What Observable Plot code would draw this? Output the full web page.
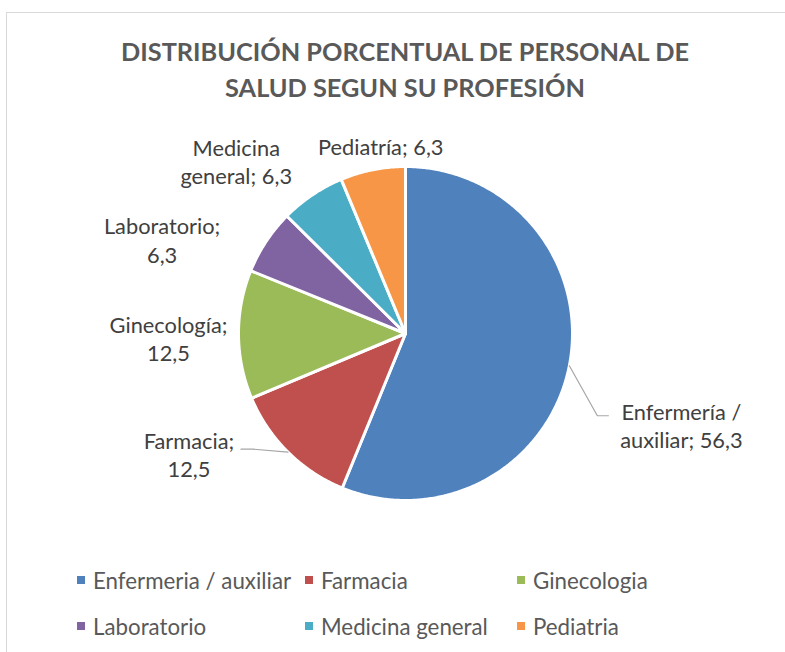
<!DOCTYPE html>
<html>
<head>
<meta charset="utf-8">
<script src="https://cdn.jsdelivr.net/npm/d3@7"></script>
<script src="https://cdn.jsdelivr.net/npm/@observablehq/plot@0.6"></script>
<style>
  html, body { margin: 0; padding: 0; background: #fff; }
  #wrap { position: relative; width: 785px; height: 652px; overflow: hidden; background: #fff; font-family: Lato, "Noto Sans", sans-serif; }
  #frame { position: absolute; left: 6px; top: 12px; width: 820px; height: 700px; border: 1px solid #d9d9d9; box-sizing: border-box; }
  #chart { position: absolute; left: 0; top: 0; }
  #title { position: absolute; left: 0; width: 810px; top: 33px; text-align: center; font-weight: bold; font-size: 25.3px; line-height: 36px; color: #595959; }
  #legend { position: absolute; left: 77px; top: 565px; display: grid; grid-template-columns: 228px 212px auto; row-gap: 16px; font-size: 22.3px; color: #595959; }
  .item { display: flex; align-items: center; height: 30px; white-space: nowrap; }
  .sw { width: 8px; height: 8px; margin-right: 8px; flex: none; }
</style>
</head>
<body>
<div id="wrap">
  <div id="frame"></div>
  <div id="chart"></div>
  <div id="title">DISTRIBUCIÓN PORCENTUAL DE PERSONAL DE<br>SALUD SEGUN SU PROFESIÓN</div>
  <div id="legend"></div>
</div>
<script>
// ---- data ----
const categories = ["Enfermería / auxiliar", "Farmacia", "Ginecología", "Laboratorio", "Medicina general", "Pediatría"];
const values = [56.3, 12.5, 12.5, 6.3, 6.3, 6.3];
const legendLabels = ["Enfermeria / auxiliar", "Farmacia", "Ginecologia", "Laboratorio", "Medicina general", "Pediatria"];
const colors = ["#4F81BD", "#C0504D", "#9BBB59", "#8064A2", "#4BACC6", "#F79646"];
const labelBreaks = ["Enfermería /", "Farmacia;", "Ginecología;", "Laboratorio;", "Medicina", null];
// label placement offsets (pixels) from each slice's outer mid-point
const labelOffsets = [[112, 59], [-99, 2], [-70, 3], [-104, -2], [-76, -34], [8, -24]];
// leader lines (pixel offsets from slice outer mid-point)
const leaders = [
  {slice: 0, pts: [[0, 0], [28, 50], [39, 50]]},
  {slice: 1, pts: [[0, 0], [-35, -3], [-47, -3]]}
];

// ---- layout ----
const W = 785, H = 652, CX = 405, CY = 333, R = 167;
const fmt = v => v.toFixed(1).replace(".", ",");

const pie = d3.pie().sort(null).value(d => d)(values);
const rows = [];
pie.forEach((p, i) => {
  const a0 = p.startAngle, a1 = p.endAngle;
  rows.push({name: categories[i], x: 0, y: 0, k: 0});
  const n = Math.max(2, Math.ceil((a1 - a0) / (Math.PI / 360)));
  for (let j = 0; j <= n; j++) {
    const a = a0 + (a1 - a0) * j / n;
    rows.push({name: categories[i], x: Math.sin(a), y: Math.cos(a), k: j + 1});
  }
});

const mid = pie.map(p => (p.startAngle + p.endAngle) / 2);
const labels = categories.map((c, i) => {
  let t = c + "; " + fmt(values[i]);
  const b = labelBreaks[i];
  if (b) t = b + "\n" + t.slice(b.length).trim();
  return {
    text: t,
    x: Math.sin(mid[i]) + labelOffsets[i][0] / R,
    y: Math.cos(mid[i]) - labelOffsets[i][1] / R
  };
});
const leaderRows = [];
leaders.forEach((l, li) => l.pts.forEach(([dx, dy]) => leaderRows.push({
  id: li, x: Math.sin(mid[l.slice]) + dx / R, y: Math.cos(mid[l.slice]) - dy / R
})));

const chart = Plot.plot({
  width: W, height: H,
  margin: 0,
  style: {background: "transparent", fontFamily: "Lato, 'Noto Sans', sans-serif"},
  x: {domain: [-CX / R, (W - CX) / R], axis: null},
  y: {domain: [-(H - CY) / R, CY / R], axis: null},
  color: {domain: categories, range: colors},
  marks: [
    Plot.line(rows, {x: "x", y: "y", z: "name", fill: "name", stroke: "white", strokeWidth: 3, curve: "linear-closed"}),
    Plot.line(leaderRows, {x: "x", y: "y", z: "id", stroke: "#a6a6a6", strokeWidth: 1.2}),
    Plot.text(labels, {x: "x", y: "y", text: "text", fontSize: 21.8, lineHeight: 1.29, fill: "#404040", textAnchor: "middle"})
  ]
});
document.getElementById("chart").appendChild(chart);

const legend = document.getElementById("legend");
legendLabels.forEach((l, i) => {
  const it = document.createElement("div");
  it.className = "item";
  it.innerHTML = `<span class="sw" style="background:${colors[i]}"></span><span>${l}</span>`;
  legend.appendChild(it);
});
</script>
</body>
</html>
